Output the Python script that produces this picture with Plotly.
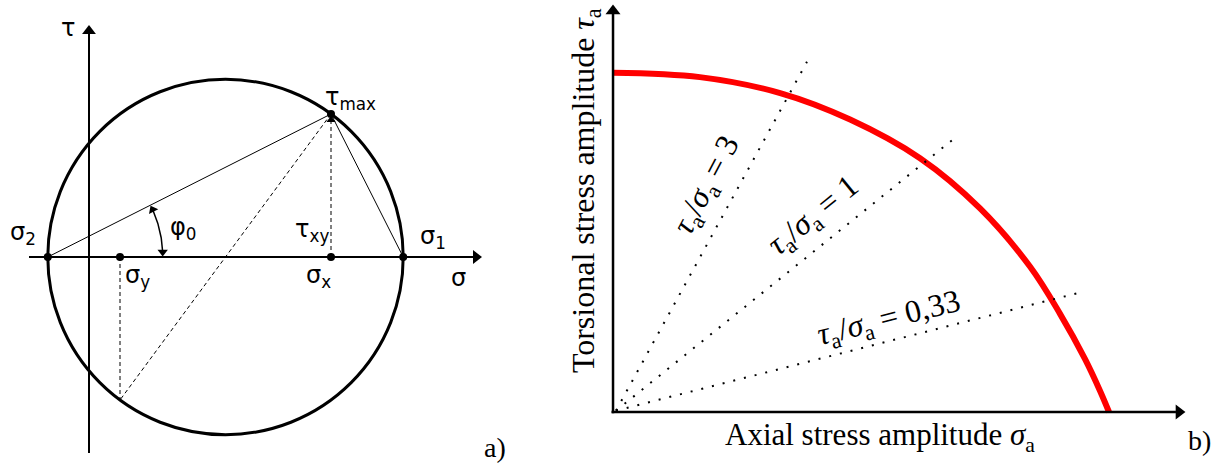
import numpy as np
import plotly.graph_objects as go

# ---------------- data: panel a) Mohr circle (arbitrary stress units) ----------
sigma_x = 24.2
sigma_y = 3.1
tau_xy = 14.3

# ---------------- data: panel b) normalised amplitudes -------------------------
sigma_a = [0.0, 0.175, 0.337, 0.478, 0.619, 0.740, 0.841, 0.901, 0.952, 0.982, 1.0]
tau_a = [1.0, 0.987, 0.940, 0.862, 0.748, 0.600, 0.428, 0.290, 0.155, 0.062, 0.0]

ratio_labels = ["3", "1", "0,33"]
ratio_end_sigma = [0.391, 0.6915, 0.9375]
ratio_end_tau = [1.032, 0.8105, 0.3507]
ratio_label_sigma = [0.19, 0.405, 0.556]
ratio_label_tau = [0.668, 0.575, 0.273]
ratio_label_angle = [-62, -39, -14]

# ---------------- derived Mohr circle geometry --------------------------------
c = (sigma_x + sigma_y) / 2
R = float(np.hypot((sigma_x - sigma_y) / 2, tau_xy))
sigma_1 = c + R
sigma_2 = c - R
phi0 = float(np.arctan2(tau_xy, sigma_x - sigma_2))

fig = go.Figure()
BLACK = "black"
LA = dict(xaxis="x", yaxis="y")
RB = dict(xaxis="x2", yaxis="y2")


def line(xs, ys, width=1, dash="solid", color=BLACK, ax=LA, shape="linear"):
    fig.add_trace(go.Scatter(x=xs, y=ys, mode="lines",
                             line=dict(color=color, width=width, dash=dash, shape=shape),
                             hoverinfo="skip", **ax))


# axes of panel a
line([-6.0, 38.7], [0, 0], width=2)
line([0, 0], [-19.6, 22.6], width=2)
fig.add_trace(go.Scatter(x=[38.7, 0], y=[0, 22.6], mode="markers",
                         marker=dict(symbol=["triangle-right", "triangle-up"], size=12, color=BLACK),
                         hoverinfo="skip", **LA))

# thin construction lines
line([sigma_2, sigma_x, sigma_1], [0, tau_xy, 0], width=1)
line([sigma_x, sigma_y], [tau_xy, -tau_xy], width=1, dash="4px,3px")
line([sigma_x, sigma_x], [0, tau_xy - 0.8], width=1, dash="4px,3px")
line([sigma_y, sigma_y], [0, -tau_xy], width=1, dash="4px,3px")

# angle arc phi0
r_arc = 11.5
d = 0.5 / r_arc
th = np.linspace(d, phi0 - d, 40)
line(sigma_2 + r_arc * np.cos(th), r_arc * np.sin(th), width=1.5)
fig.add_trace(go.Scatter(
    x=[sigma_2 + r_arc * np.cos(d), sigma_2 + r_arc * np.cos(phi0 - d)],
    y=[r_arc * np.sin(d), r_arc * np.sin(phi0 - d)],
    mode="markers",
    marker=dict(symbol="triangle-up", size=9, color=BLACK,
                angle=[180, -np.degrees(phi0)]),
    hoverinfo="skip", **LA))

# small arrow under tau_max and the points
fig.add_trace(go.Scatter(x=[sigma_x], y=[tau_xy - 0.6], mode="markers",
                         marker=dict(symbol="triangle-up", size=8, color=BLACK),
                         hoverinfo="skip", **LA))
fig.add_trace(go.Scatter(x=[sigma_2, sigma_y, sigma_x, sigma_1, sigma_x],
                         y=[0, 0, 0, 0, tau_xy], mode="markers",
                         marker=dict(size=8, color=BLACK), hoverinfo="skip", **LA))

fig.add_shape(type="circle", xref="x", yref="y", x0=c - R, x1=c + R, y0=-R, y1=R,
              line=dict(color=BLACK, width=3), layer="below")

# ---------------- panel b -------------------------------------------------------
line(sigma_a, tau_a, width=6, color="#ff0000", ax=RB, shape="spline")
for xe, ye in zip(ratio_end_sigma, ratio_end_tau):
    line([0.006, xe], [0.004, ye], width=2, dash="2px,9px", ax=RB)

line([-0.003, 1.135], [0, 0], width=2.5, ax=RB)
line([0, 0], [-0.004, 1.18], width=2.5, ax=RB)
fig.add_trace(go.Scatter(x=[1.141, 0], y=[0, 1.182], mode="markers",
                         marker=dict(symbol=["triangle-right", "triangle-up"], size=13, color=BLACK),
                         hoverinfo="skip", **RB))

# ---------------- annotations ---------------------------------------------------
SANS = dict(family="DejaVu Sans", size=24, color=BLACK)
SERIF = dict(family="Liberation Serif", size=31, color=BLACK)
SERIF_Y = dict(family="Liberation Serif", size=32, color=BLACK)
SERIF_R = dict(family="Liberation Serif", size=32, color=BLACK)


def ann(x, y, text, font, xref="x", yref="y", angle=0):
    fig.add_annotation(x=x, y=y, xref=xref, yref=yref, text=text, showarrow=False,
                       font=font, textangle=angle, xanchor="center", yanchor="middle")


ann(-2.1, 22.9, "τ", SANS)
ann(36.9, -2.1, "σ", SANS)
ann(-6.6, 2.4, "σ<sub>2</sub>", SANS)
ann(34.4, 2.0, "σ<sub>1</sub>", SANS)
ann(4.8, -1.9, "σ<sub>y</sub>", SANS)
ann(22.9, -1.9, "σ<sub>x</sub>", SANS)
ann(22.3, 2.7, "τ<sub>xy</sub>", SANS)
ann(26.1, 15.9, "τ<sub>max</sub>", SANS)
ann(9.4, 2.9, "φ<sub>0</sub>", SANS)
ann(40.6, -19.0, "a)", dict(family="Liberation Serif", size=28, color=BLACK))

for lab, xl, yl, ang in zip(ratio_labels, ratio_label_sigma, ratio_label_tau, ratio_label_angle):
    ann(xl, yl, "<i>τ</i><sub>a</sub>/<i>σ</i><sub>a</sub> = " + lab, SERIF_R, "x2", "y2", ang)

ann(0.538, -0.074, "Axial stress amplitude <i>σ</i><sub>a</sub>", SERIF, "x2", "y2")
ann(-0.0565, 0.651, "Torsional stress amplitude <i>τ</i><sub>a</sub>", SERIF_Y, "x2", "y2", -90)
ann(1.183, -0.0825, "b)", dict(family="Liberation Serif", size=28, color=BLACK), "x2", "y2")

hidden = dict(visible=False, showgrid=False, zeroline=False)
fig.update_layout(
    width=1221, height=463, margin=dict(l=0, r=0, t=0, b=0),
    paper_bgcolor="white", plot_bgcolor="white", showlegend=False,
    xaxis=dict(domain=[0, 520 / 1221], range=[-8.9, 43.1], **hidden),
    yaxis=dict(domain=[0, 1], range=[-20.6, 25.7], **hidden),
    xaxis2=dict(domain=[560 / 1221, 1], range=[-0.1069, 1.2258], **hidden),
    yaxis2=dict(domain=[0, 1], range=[-0.1503, 1.2143], anchor="x2", **hidden),
)

fig.write_html("out.html")
